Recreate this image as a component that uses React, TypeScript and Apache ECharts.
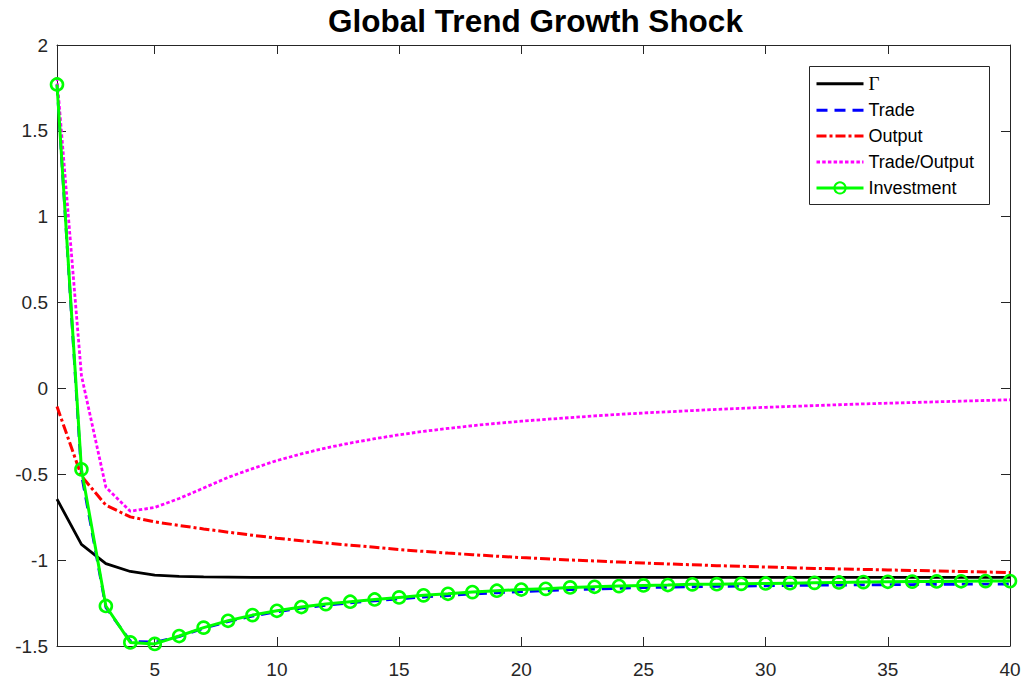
import React, { useEffect, useRef } from 'react';
import * as echarts from 'echarts';

const periods = [1, 2, 3, 4, 5, 6, 7, 8, 9, 10, 11, 12, 13, 14, 15, 16, 17, 18, 19, 20, 21, 22, 23, 24, 25, 26, 27, 28, 29, 30, 31, 32, 33, 34, 35, 36, 37, 38, 39, 40];

const gammaValues = [-0.645, -0.908, -1.02, -1.066, -1.087, -1.095, -1.098, -1.099, -1.1, -1.1, -1.1, -1.1, -1.1, -1.1, -1.1, -1.1, -1.1, -1.1, -1.1, -1.1, -1.1, -1.1, -1.1, -1.1, -1.1, -1.1, -1.1, -1.1, -1.1, -1.1, -1.1, -1.1, -1.1, -1.1, -1.1, -1.1, -1.1, -1.1, -1.1, -1.1];

const tradeValues = [1.77, -0.5, -1.275, -1.472, -1.478, -1.445, -1.397, -1.358, -1.326, -1.301, -1.28, -1.263, -1.249, -1.237, -1.226, -1.215, -1.206, -1.197, -1.19, -1.183, -1.178, -1.172, -1.168, -1.164, -1.16, -1.158, -1.155, -1.153, -1.151, -1.149, -1.148, -1.146, -1.145, -1.144, -1.143, -1.142, -1.141, -1.14, -1.14, -1.139];

const outputValues = [-0.105, -0.51, -0.68, -0.748, -0.777, -0.798, -0.818, -0.837, -0.855, -0.872, -0.887, -0.9, -0.913, -0.925, -0.938, -0.949, -0.959, -0.968, -0.977, -0.985, -0.992, -0.999, -1.005, -1.011, -1.017, -1.022, -1.027, -1.032, -1.036, -1.04, -1.044, -1.048, -1.051, -1.054, -1.057, -1.06, -1.063, -1.066, -1.069, -1.072];

const tradeOutputValues = [1.81, 0.075, -0.575, -0.715, -0.693, -0.641, -0.58, -0.518, -0.467, -0.42, -0.381, -0.347, -0.318, -0.293, -0.27, -0.25, -0.233, -0.217, -0.203, -0.191, -0.18, -0.17, -0.16, -0.151, -0.143, -0.136, -0.129, -0.122, -0.116, -0.11, -0.105, -0.1, -0.095, -0.09, -0.086, -0.082, -0.078, -0.074, -0.07, -0.066];

const investmentValues = [1.77, -0.471, -1.267, -1.479, -1.488, -1.442, -1.393, -1.353, -1.32, -1.295, -1.273, -1.256, -1.242, -1.229, -1.217, -1.205, -1.196, -1.186, -1.178, -1.171, -1.167, -1.159, -1.155, -1.151, -1.147, -1.145, -1.141, -1.14, -1.138, -1.136, -1.134, -1.132, -1.13, -1.128, -1.126, -1.125, -1.124, -1.123, -1.122, -1.122];

const xTickValues = [5, 10, 15, 20, 25, 30, 35, 40];
const seriesNames = ['Γ', 'Trade', 'Output', 'Trade/Output', 'Investment'];
const chartTitle = 'Global Trend Growth Shock';

export default function App() {
  const ref = useRef<HTMLDivElement>(null);

  useEffect(() => {
    const chart = echarts.init(ref.current as HTMLDivElement, null, { renderer: 'svg' });
    const pair = (vals: number[]) => periods.map((p, i) => [p, vals[i]]);
    const axisColor = '#262626';
    const font = '"Liberation Sans", Arial, sans-serif';

    const baseX = {
      type: 'value',
      min: 1,
      max: 40,
      splitLine: { show: false },
      axisLine: { show: true, onZero: false, lineStyle: { color: axisColor, width: 1 } },
      axisTick: { show: true, inside: true, length: 9, customValues: xTickValues, lineStyle: { color: axisColor } },
    };
    const baseY = {
      type: 'value',
      min: -1.5,
      max: 2,
      interval: 0.5,
      splitLine: { show: false },
      axisLine: { show: true, onZero: false, lineStyle: { color: axisColor, width: 1 } },
      axisTick: { show: true, inside: true, length: 9, lineStyle: { color: axisColor } },
    };

    const hiddenSymbol = { color: 'rgba(0,0,0,0)', borderWidth: 0, opacity: 0 };

    chart.setOption({
      animation: false,
      backgroundColor: '#ffffff',
      textStyle: { fontFamily: font },
      graphic: [
        {
          type: 'text',
          x: 535.5,
          y: 21,
          style: {
            text: chartTitle,
            fontFamily: font,
            fontSize: 31.5,
            fontWeight: 'bold',
            fill: '#000',
            align: 'center',
            verticalAlign: 'middle',
          },
        },
        {
          type: 'rect',
          z: 3,
          shape: { x: 809.5, y: 66.5, width: 180, height: 138 },
          style: { fill: '#ffffff', stroke: axisColor, lineWidth: 1 },
        },
      ],
      legend: {
        orient: 'vertical',
        left: 809,
        top: 66,
        padding: [8.3, 5, 5, 6],
        itemWidth: 47,
        itemHeight: 14,
        itemGap: 7.9,
        selectedMode: false,
        lineStyle: { width: 3 },
        data: [
          { name: seriesNames[0], itemStyle: hiddenSymbol },
          { name: seriesNames[1], itemStyle: hiddenSymbol },
          { name: seriesNames[2], itemStyle: hiddenSymbol },
          { name: seriesNames[3], itemStyle: hiddenSymbol },
          { name: seriesNames[4] },
        ],
        textStyle: {
          fontFamily: font,
          fontSize: 18,
          color: '#000',
          lineHeight: 14,
          rich: {
            g: { fontFamily: '"Liberation Serif", serif', fontSize: 19, color: '#000', lineHeight: 14 },
          },
        },
        formatter: (name: string) => (name === 'Γ' ? '{g|Γ}' : name),
      },
      grid: { left: 57, right: 16, top: 45, bottom: 37, containLabel: false },
      xAxis: [
        {
          ...baseX,
          position: 'bottom',
          axisLabel: { show: true, customValues: xTickValues, color: axisColor, fontSize: 19, fontFamily: font, margin: 14 },
        },
        {
          ...baseX,
          position: 'top',
          axisLabel: { show: false },
        },
      ],
      yAxis: [
        {
          ...baseY,
          position: 'left',
          axisLabel: { show: true, color: axisColor, fontSize: 19, fontFamily: font, margin: 9 },
        },
        {
          ...baseY,
          position: 'right',
          axisLabel: { show: false },
        },
      ],
      series: [
        {
          name: seriesNames[0],
          type: 'line',
          data: pair(gammaValues),
          symbol: 'none',
          lineStyle: { color: '#000000', width: 2.8, type: 'solid' },
          itemStyle: { color: '#000000' },
        },
        {
          name: seriesNames[1],
          type: 'line',
          data: pair(tradeValues),
          symbol: 'none',
          lineStyle: { color: '#0000ff', width: 2.8, type: [11, 7], cap: 'butt' },
          itemStyle: { color: '#0000ff' },
        },
        {
          name: seriesNames[2],
          type: 'line',
          data: pair(outputValues),
          symbol: 'none',
          lineStyle: { color: '#ff0000', width: 3, type: [10, 3, 3, 3], cap: 'butt' },
          itemStyle: { color: '#ff0000' },
        },
        {
          name: seriesNames[3],
          type: 'line',
          data: pair(tradeOutputValues),
          symbol: 'none',
          lineStyle: { color: '#ff00ff', width: 2.8, type: [3.5, 2.2], cap: 'butt' },
          itemStyle: { color: '#ff00ff' },
        },
        {
          name: seriesNames[4],
          type: 'line',
          data: pair(investmentValues),
          symbol: 'circle',
          symbolSize: 12,
          showAllSymbol: true,
          clip: false,
          lineStyle: { color: '#00ff00', width: 3, type: 'solid' },
          itemStyle: { color: 'rgba(255,255,255,0)', borderColor: '#00ff00', borderWidth: 2.6 },
        },
      ],
    });

    return () => chart.dispose();
  }, []);

  return <div ref={ref} style={{ position: 'fixed', left: 0, top: 0, width: 1026, height: 683 }} />;
}
